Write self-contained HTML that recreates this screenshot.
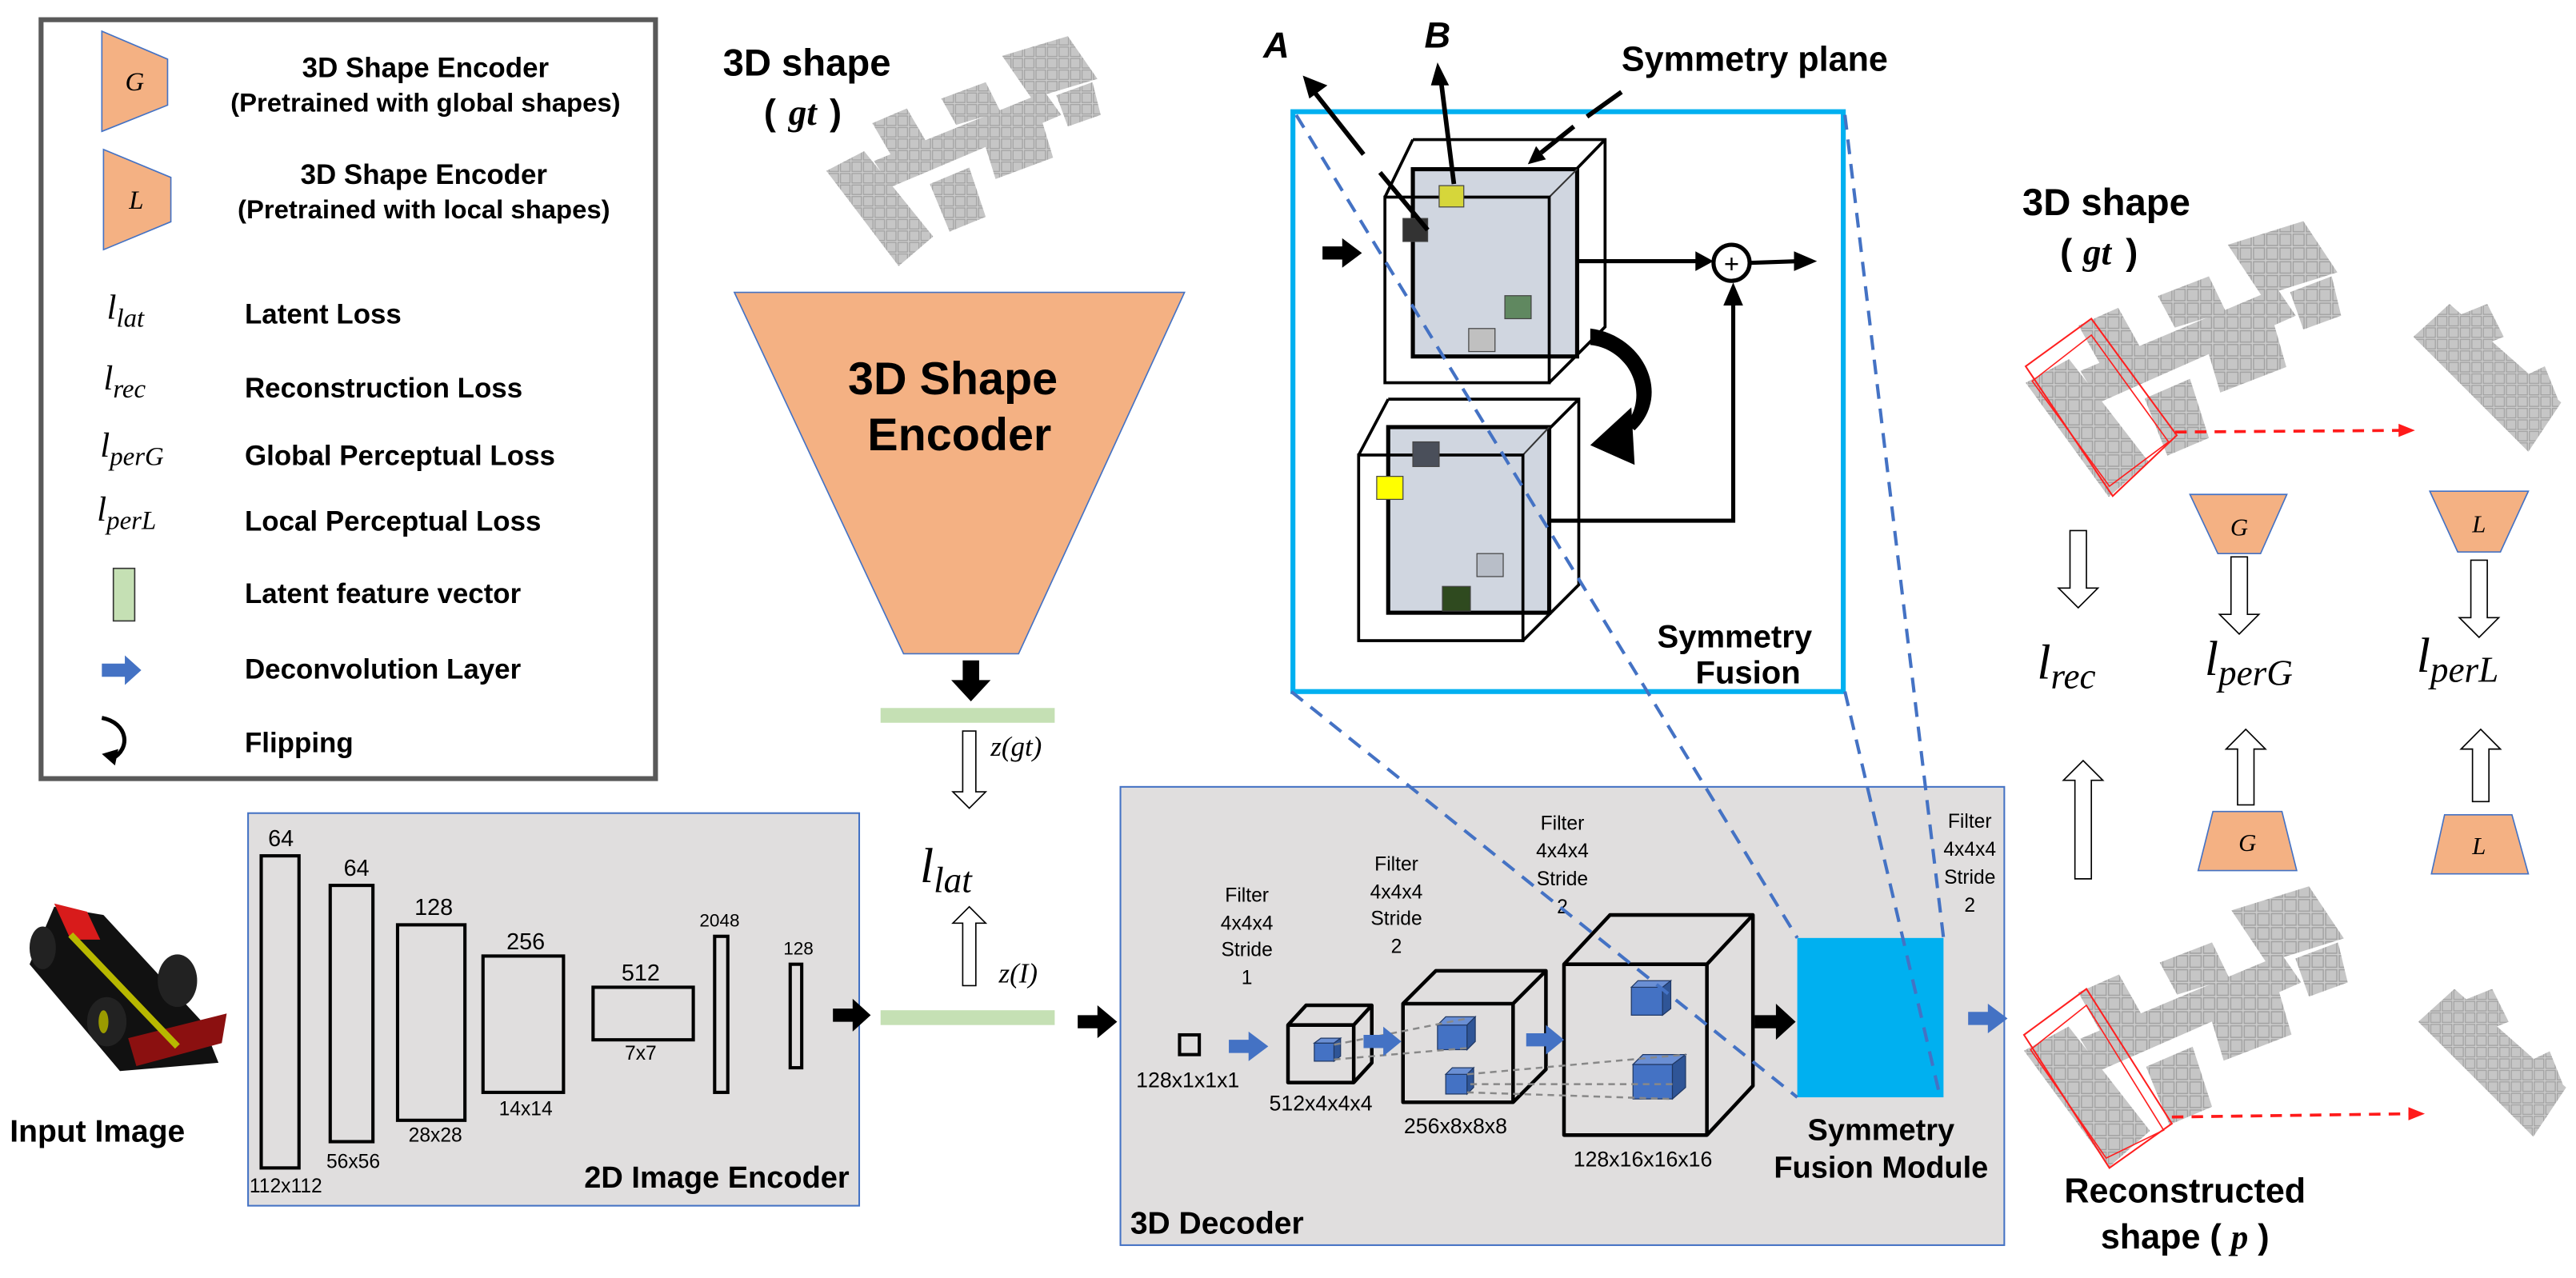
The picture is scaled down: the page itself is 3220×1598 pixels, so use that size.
<!DOCTYPE html>
<html><head><meta charset="utf-8"><style>
html,body{margin:0;padding:0;background:#fff;width:3220px;height:1598px;overflow:hidden}
svg{display:block}
.b{font-family:"Liberation Sans","NanumGothic",sans-serif;font-weight:bold;fill:#000}
.n{font-family:"Liberation Sans",sans-serif;fill:#000}
.c{font-family:"Liberation Sans Narrow","Liberation Sans",sans-serif;fill:#000}
.m{font-family:"Liberation Serif","DejaVu Serif",serif;font-style:italic;fill:#000}
</style></head><body>
<svg width="3220" height="1598" viewBox="0 0 1568 778" preserveAspectRatio="none" xmlns="http://www.w3.org/2000/svg">
<defs>
<pattern id="vox" width="7" height="7" patternUnits="userSpaceOnUse">
<rect width="7" height="7" fill="#cfcfcf"/><rect x="0.6" y="0.6" width="5.8" height="5.8" fill="#c6c6c6" stroke="#a0a0a0" stroke-width="0.6"/>
</pattern>
<g id="car">
<polygon points="503,104 526,92 568,144 547,162" fill="url(#vox)"/>
<polygon points="531,75 552,66 566,90 545,99" fill="url(#vox)"/>
<polygon points="573,60 600,50 609,68 582,76" fill="url(#vox)"/>
<polygon points="610,34 650,22 668,48 628,60" fill="url(#vox)"/>
<polygon points="532,98 636,56 646,70 542,114" fill="url(#vox)"/>
<polygon points="566,112 590,102 600,132 578,141" fill="url(#vox)"/>
<polygon points="597,80 632,66 641,96 606,109" fill="url(#vox)"/>
<polygon points="643,58 665,50 670,70 650,77" fill="url(#vox)"/>
</g>
<g id="piece">
<polygon points="0,20 22,0 90,60 70,90" fill="url(#vox)"/>
<polygon points="20,10 45,0 55,20 30,30" fill="url(#vox)"/>
<polygon points="55,50 80,38 88,58 65,70" fill="url(#vox)"/>
</g>
</defs>

<!-- Legend -->
<rect x="25" y="12" width="374" height="462" fill="#fff" stroke="#595959" stroke-width="3"/>
<polygon points="62,19 102,36 102,64 62,80" fill="#f4b183" stroke="#4472c4" stroke-width="0.8"/>
<text x="82" y="55" class="m" font-size="16" text-anchor="middle">G</text>
<text x="259" y="47" class="b" font-size="17" text-anchor="middle">3D Shape Encoder</text>
<text x="259" y="68" class="b" font-size="16" text-anchor="middle">(Pretrained with global shapes)</text>
<polygon points="63,91 104,108 104,135 63,152" fill="#f4b183" stroke="#4472c4" stroke-width="0.8"/>
<text x="83" y="127" class="m" font-size="16" text-anchor="middle">L</text>
<text x="258" y="112" class="b" font-size="17" text-anchor="middle">3D Shape Encoder</text>
<text x="258" y="133" class="b" font-size="16" text-anchor="middle">(Pretrained with local shapes)</text>
<text x="65" y="194" class="m" font-size="21">l<tspan font-size="16" dy="5">lat</tspan></text>
<text x="149" y="197" class="b" font-size="17">Latent Loss</text>
<text x="63" y="237" class="m" font-size="21">l<tspan font-size="16" dy="5">rec</tspan></text>
<text x="149" y="242" class="b" font-size="17">Reconstruction Loss</text>
<text x="61" y="278" class="m" font-size="21">l<tspan font-size="16" dy="5">perG</tspan></text>
<text x="149" y="283" class="b" font-size="17">Global Perceptual Loss</text>
<text x="59" y="317" class="m" font-size="21">l<tspan font-size="16" dy="5">perL</tspan></text>
<text x="149" y="323" class="b" font-size="17">Local Perceptual Loss</text>
<rect x="69" y="346" width="13" height="32" fill="#c5e0b4" stroke="#333" stroke-width="0.8"/>
<text x="149" y="367" class="b" font-size="17">Latent feature vector</text>
<polygon points="62,404 76,404 76,399 86,408 76,417 76,412 62,412" fill="#4472c4"/>
<text x="149" y="413" class="b" font-size="17">Deconvolution Layer</text>
<path d="M62,437 C78,440 80,456 68,462" fill="none" stroke="#000" stroke-width="2.5"/>
<polygon points="62,459 72,456 70,466" fill="#000"/>
<text x="149" y="458" class="b" font-size="17">Flipping</text>

<!-- top 3D shape + encoder -->
<text x="440" y="46" class="b" font-size="23">3D shape</text>
<text x="465" y="76" class="b" font-size="22">(</text><text x="480" y="76" class="m" font-size="22" font-weight="bold">gt</text><text x="505" y="76" class="b" font-size="22">)</text>
<use href="#car"/>
<polygon points="447,178 721,178 620,398 550,398" fill="#f4b183" stroke="#4472c4" stroke-width="0.8"/>
<text x="580" y="240" class="b" font-size="28" text-anchor="middle">3D Shape</text>
<text x="584" y="274" class="b" font-size="28" text-anchor="middle">Encoder</text>
<polygon points="586,402 596,402 596,414 603,414 591,427 579,414 586,414" fill="#000"/>
<rect x="536" y="431" width="106" height="9" fill="#c5e0b4"/>
<polygon points="586,445 594,445 594,482 600,482 590,492 580,482 586,482" fill="#fff" stroke="#000" stroke-width="0.8"/>
<text x="603" y="460" class="m" font-size="17">z(gt)</text>
<text x="560" y="537" class="m" font-size="30">l<tspan font-size="22" dy="6">lat</tspan></text>
<polygon points="586,600 594,600 594,562 600,562 590,552 580,562 586,562" fill="#fff" stroke="#000" stroke-width="0.8"/>
<text x="608" y="598" class="m" font-size="17">z(I)</text>
<rect x="536" y="615" width="106" height="9" fill="#c5e0b4"/>
<polygon points="656,618 668,618 668,612 680,622 668,632 668,626 656,626" fill="#000"/>

<!-- Input image -->
<g transform="translate(13,547)">
<polygon points="20,5 50,10 110,75 120,100 60,105 5,40" fill="#111"/>
<polygon points="20,3 40,8 48,25 30,25" fill="#d81b1b"/>
<polygon points="65,85 125,70 122,88 70,102" fill="#8b1010"/>
<path d="M30,22 L95,90" stroke="#b8b800" stroke-width="4" fill="none"/>
<ellipse cx="13" cy="30" rx="8" ry="13" fill="#222"/>
<ellipse cx="95" cy="50" rx="12" ry="16" fill="#222"/>
<ellipse cx="52" cy="75" rx="12" ry="15" fill="#222"/>
<ellipse cx="50" cy="75" rx="3" ry="7" fill="#9a9a00"/>
</g>
<text x="6" y="695" class="b" font-size="19">Input Image</text>

<!-- 2D image encoder -->
<rect x="151" y="495" width="372" height="239" fill="#e0dede" stroke="#4472c4" stroke-width="1"/>
<g fill="none" stroke="#000" stroke-width="2">
<rect x="159" y="521" width="23" height="190"/>
<rect x="201" y="539" width="26" height="156"/>
<rect x="242" y="563" width="41" height="119"/>
<rect x="294" y="582" width="49" height="83"/>
<rect x="361" y="601" width="61" height="32"/>
<rect x="435" y="570" width="8" height="95"/>
<rect x="481" y="587" width="7" height="63"/>
</g>
<g class="n" font-size="14" text-anchor="middle">
<text x="171" y="515">64</text><text x="217" y="533">64</text><text x="264" y="557">128</text>
<text x="320" y="578">256</text><text x="390" y="597">512</text>
<text x="438" y="564" font-size="11">2048</text><text x="486" y="581" font-size="11">128</text>
<text x="174" y="726" font-size="12">112x112</text><text x="215" y="711" font-size="12">56x56</text>
<text x="265" y="695" font-size="12">28x28</text><text x="320" y="679" font-size="12">14x14</text>
<text x="390" y="645" font-size="12">7x7</text>
</g>
<text x="517" y="723" class="b" font-size="18.5" text-anchor="end">2D Image Encoder</text>
<polygon points="507,614 519,614 519,608 530,618 519,628 519,622 507,622" fill="#000"/>

<!-- 3D decoder -->
<rect x="682" y="479" width="538" height="279" fill="#e0dede" stroke="#4472c4" stroke-width="1"/>
<rect x="718" y="630" width="12" height="12" fill="none" stroke="#000" stroke-width="2"/>
<text x="723" y="662" class="c" font-size="13" text-anchor="middle">128x1x1x1</text>
<g class="c" font-size="13" text-anchor="middle">
<text x="804" y="676">512x4x4x4</text>
<text x="886" y="690">256x8x8x8</text>
<text x="1000" y="710">128x16x16x16</text>
</g>
<g class="c" font-size="12" text-anchor="middle">
<text x="759" y="549">Filter</text><text x="759" y="566">4x4x4</text><text x="759" y="582">Stride</text><text x="759" y="599">1</text>
<text x="850" y="530">Filter</text><text x="850" y="547">4x4x4</text><text x="850" y="563">Stride</text><text x="850" y="580">2</text>
<text x="951" y="505">Filter</text><text x="951" y="522">4x4x4</text><text x="951" y="539">Stride</text><text x="951" y="556">2</text>
<text x="1199" y="504">Filter</text><text x="1199" y="521">4x4x4</text><text x="1199" y="538">Stride</text><text x="1199" y="555">2</text>
</g>
<g fill="none" stroke="#000" stroke-width="2.2" stroke-linejoin="round">
<path d="M784,624 L824,624 L824,659 L784,659 Z M784,624 L795,612 L835,612 L824,624 M835,612 L835,647 L824,659"/>
<path d="M854,611 L921,611 L921,671 L854,671 Z M854,611 L874,591 L941,591 L921,611 M941,591 L941,651 L921,671"/>
<path d="M952,587 L1039,587 L1039,691 L952,691 Z M952,587 L980,557 L1067,557 L1039,587 M1067,557 L1067,661 L1039,691"/>
</g>
<g fill="#4472c4" stroke="#203864" stroke-width="0.6">
<rect x="800" y="635" width="12" height="11"/><polygon points="800,635 804,632 816,632 812,635" fill="#6a8fd4"/><polygon points="812,635 816,632 816,643 812,646" fill="#2f5597"/>
<rect x="875" y="624" width="18" height="15"/><polygon points="875,624 880,619 898,619 893,624" fill="#6a8fd4"/><polygon points="893,624 898,619 898,634 893,639" fill="#2f5597"/>
<rect x="880" y="654" width="13" height="12"/><polygon points="880,654 884,650 897,650 893,654" fill="#6a8fd4"/><polygon points="893,654 897,650 897,662 893,666" fill="#2f5597"/>
<rect x="993" y="601" width="19" height="17"/><polygon points="993,601 997,597 1017,597 1012,601" fill="#6a8fd4"/><polygon points="1012,601 1017,597 1017,614 1012,618" fill="#2f5597"/>
<rect x="994" y="648" width="24" height="21"/><polygon points="994,648 1000,642 1026,642 1018,648" fill="#6a8fd4"/><polygon points="1018,648 1026,642 1026,662 1018,669" fill="#2f5597"/>
</g>
<g stroke="#888" stroke-width="1.2" stroke-dasharray="4,3" fill="none">
<line x1="812" y1="636" x2="893" y2="620"/><line x1="812" y1="645" x2="893" y2="638"/>
<line x1="893" y1="654" x2="1026" y2="642"/><line x1="893" y1="665" x2="1018" y2="669"/><line x1="895" y1="660" x2="1018" y2="660"/>
</g>
<polygon points="748,633 760,633 760,628 772,637 760,646 760,641 748,641" fill="#4472c4"/>
<polygon points="830,630 842,630 842,625 853,634 842,643 842,638 830,638" fill="#4472c4"/>
<polygon points="929,629 941,629 941,624 952,633 941,642 941,637 929,637" fill="#4472c4"/>
<polygon points="1068,618 1081,618 1081,611 1093,622 1081,633 1081,626 1068,626" fill="#000"/>
<rect x="1094" y="571" width="89" height="97" fill="#00b0f0"/>
<polygon points="1198,616 1210,616 1210,611 1222,620 1210,629 1210,624 1198,624" fill="#4472c4"/>
<text x="1145" y="694" class="b" font-size="18.5" text-anchor="middle">Symmetry</text>
<text x="1145" y="717" class="b" font-size="18.5" text-anchor="middle">Fusion Module</text>
<text x="688" y="751" class="b" font-size="19">3D Decoder</text>

<!-- Symmetry fusion -->
<rect x="787" y="68" width="335" height="353" fill="#fff" stroke="#00b0f0" stroke-width="3"/>
<g stroke="#000" stroke-width="1.8" fill="none">
<path d="M860,85 L977,85 L977,199 L943,233 M843,120 L860,85 M943,120 L977,85"/>
<path d="M845,243 L961,243 L961,356 L927,390 M827,277 L845,243 M927,277 L961,243"/>
</g>
<rect x="860" y="103" width="100" height="114" fill="#d0d6e0" stroke="#000" stroke-width="2.5"/>
<line x1="943" y1="120" x2="960" y2="103" stroke="#333" stroke-width="1"/>
<rect x="845" y="260" width="98" height="113" fill="#d0d6e0" stroke="#000" stroke-width="2.5"/>
<line x1="927" y1="277" x2="943" y2="260" stroke="#333" stroke-width="1"/>
<g fill="none" stroke="#000" stroke-width="1.8">
<rect x="843" y="120" width="100" height="113"/>
<rect x="827" y="277" width="100" height="113"/>
</g>
<g stroke="#444" stroke-width="0.6">
<rect x="854" y="133" width="15" height="14" fill="#333"/>
<rect x="876" y="113" width="15" height="13" fill="#d6d63a"/>
<rect x="916" y="180" width="16" height="14" fill="#608860"/>
<rect x="894" y="200" width="16" height="14" fill="#c0c0c0"/>
<rect x="860" y="269" width="16" height="15" fill="#4a4f5a"/>
<rect x="838" y="290" width="16" height="14" fill="#ffff00"/>
<rect x="899" y="337" width="16" height="14" fill="#b8bec8"/>
<rect x="878" y="357" width="17" height="15" fill="#2f4a1f"/>
</g>
<polygon points="805,150 817,150 817,145 829,154 817,163 817,158 805,158" fill="#000"/>
<line x1="960" y1="159" x2="1035" y2="159" stroke="#000" stroke-width="2.5"/>
<polygon points="1032,153 1043,159 1032,165" fill="#000"/>
<circle cx="1054" cy="160" r="11" fill="#fff" stroke="#000" stroke-width="2.5"/>
<text x="1054" y="166" class="n" font-size="16" text-anchor="middle">+</text>
<line x1="1065" y1="160" x2="1095" y2="159" stroke="#000" stroke-width="2.5"/>
<polygon points="1092,153 1106,159 1092,165" fill="#000"/>
<polyline points="943,317 1055,317 1055,185" fill="none" stroke="#000" stroke-width="2.5"/>
<polygon points="1049,186 1055,172 1061,186" fill="#000"/>
<path d="M968,200 C1000,204 1018,240 995,262 L990,258 C1005,238 990,212 968,210 Z" fill="#000"/>
<polygon points="968,271 993,248 995,283" fill="#000"/>
<text x="769" y="35" class="b" font-size="22" font-style="italic">A</text>
<text x="867" y="29" class="b" font-size="22" font-style="italic">B</text>
<path d="M869,140 L840,105 M830,94 L800,56" stroke="#000" stroke-width="2.8" fill="none"/>
<polygon points="793,46 808,52 797,60" fill="#000"/>
<line x1="885" y1="112" x2="877" y2="48" stroke="#000" stroke-width="2.8"/>
<polygon points="875,38 882,52 871,52" fill="#000"/>
<text x="987" y="43" class="b" font-size="21">Symmetry plane</text>
<path d="M987,56 L966,71 M958,77 L938,93" stroke="#000" stroke-width="2.8" fill="none"/>
<polygon points="930,100 935,89 941,97" fill="#000"/>
<text x="1103" y="394" class="b" font-size="19.5" text-anchor="end">Symmetry</text>
<text x="1096" y="416" class="b" font-size="19.5" text-anchor="end">Fusion</text>

<!-- blue dashed projection lines -->
<g stroke="#4472c4" stroke-width="2" stroke-dasharray="9,6" fill="none">
<line x1="789" y1="70" x2="1094" y2="571"/>
<line x1="786" y1="421" x2="1094" y2="668"/>
<line x1="1123" y1="70" x2="1183" y2="571"/>
<line x1="1123" y1="421" x2="1181" y2="668"/>
</g>

<!-- right side -->
<text x="1231" y="131" class="b" font-size="23">3D shape</text>
<text x="1254" y="161" class="b" font-size="22">(</text><text x="1268" y="161" class="m" font-size="22" font-weight="bold">gt</text><text x="1294" y="161" class="b" font-size="22">)</text>
<use href="#car" transform="translate(1233,137) scale(1.15,1.2) translate(-503,-24)"/>
<polygon points="1233,223 1273,194 1325,265 1286,302" fill="none" stroke="#ff2020" stroke-width="1"/>
<polygon points="1237,232 1273,204 1320,269 1284,296" fill="none" stroke="#ff2020" stroke-width="0.8"/>
<line x1="1324" y1="263" x2="1462" y2="262" stroke="#ff1a1a" stroke-width="1.8" stroke-dasharray="7,5"/>
<polygon points="1460,258 1470,262 1460,266" fill="#ff1a1a"/>
<use href="#piece" transform="translate(1469,185)"/>
<polygon points="1333,301 1392,301 1376,337 1350,337" fill="#f4b183" stroke="#4472c4" stroke-width="0.8"/>
<text x="1363" y="326" class="m" font-size="15" text-anchor="middle">G</text>
<polygon points="1479,299 1539,299 1522,336 1496,336" fill="#f4b183" stroke="#4472c4" stroke-width="0.8"/>
<text x="1509" y="324" class="m" font-size="15" text-anchor="middle">L</text>
<g fill="#fff" stroke="#000" stroke-width="0.8">
<polygon points="1260,323 1270,323 1270,358 1277,358 1265,370 1253,358 1260,358"/>
<polygon points="1358,339 1368,339 1368,374 1375,374 1363,386 1351,374 1358,374"/>
<polygon points="1504,341 1514,341 1514,376 1521,376 1509,388 1497,376 1504,376"/>
<polygon points="1263,535 1273,535 1273,475 1280,475 1268,463 1256,475 1263,475"/>
<polygon points="1362,490 1372,490 1372,456 1379,456 1367,444 1355,456 1362,456"/>
<polygon points="1505,488 1515,488 1515,456 1522,456 1510,444 1498,456 1505,456"/>
</g>
<text x="1240" y="413" class="m" font-size="30">l<tspan font-size="22" dy="6">rec</tspan></text>
<text x="1342" y="411" class="m" font-size="30">l<tspan font-size="22" dy="6">perG</tspan></text>
<text x="1471" y="409" class="m" font-size="30">l<tspan font-size="22" dy="6">perL</tspan></text>
<polygon points="1347,494 1389,494 1398,530 1338,530" fill="#f4b183" stroke="#4472c4" stroke-width="0.8"/>
<text x="1368" y="518" class="m" font-size="15" text-anchor="middle">G</text>
<polygon points="1488,496 1529,496 1539,532 1480,532" fill="#f4b183" stroke="#4472c4" stroke-width="0.8"/>
<text x="1509" y="520" class="m" font-size="15" text-anchor="middle">L</text>
<use href="#car" transform="translate(1232,542) scale(1.18,1.22) translate(-503,-24)"/>
<polygon points="1232,630 1270,602 1322,684 1284,711" fill="none" stroke="#ff2020" stroke-width="1"/>
<polygon points="1236,639 1270,612 1317,688 1282,705" fill="none" stroke="#ff2020" stroke-width="0.8"/>
<line x1="1322" y1="680" x2="1468" y2="678" stroke="#ff1a1a" stroke-width="1.8" stroke-dasharray="7,5"/>
<polygon points="1466,674 1476,678 1466,682" fill="#ff1a1a"/>
<use href="#piece" transform="translate(1472,602)"/>
<text x="1330" y="732" class="b" font-size="21" text-anchor="middle">Reconstructed</text>
<text x="1330" y="760" class="b" font-size="21" text-anchor="middle">shape ( <tspan class="m">p</tspan> )</text>
</svg>
</body></html>
